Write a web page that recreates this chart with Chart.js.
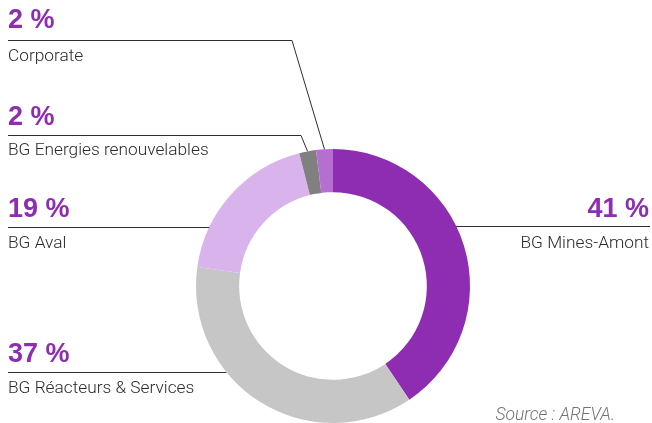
<!DOCTYPE html>
<html>
<head>
<meta charset="utf-8">
<script src="https://cdn.jsdelivr.net/npm/chart.js@4/dist/chart.umd.min.js"></script>
<style>
    html, body { margin: 0; padding: 0; background: #fff; }
    #wrap { width: 652px; height: 423px; position: relative; }
</style>
</head>
<body>
<div id="wrap"><canvas id="repartitionChart"></canvas></div>
<script>
// Répartition par BG, dans l'ordre des secteurs (sens horaire depuis midi)
var segments = ['BG Mines-Amont', 'BG Réacteurs & Services', 'BG Aval', 'BG Energies renouvelables', 'Corporate'];
var shares = [41, 37, 19, 2, 2];
var colours = ['#8e2db1', '#c6c6c6', '#d9b4ec', '#808080', '#b46fd0'];

var purple = '#8e2db1';
var lineColour = '#2e2e2e';

// where each label sits: side, baseline of the %, baseline of the name, leader line y
var callouts = [
    { side: 'right', x: 649, pctY: 217, nameY: 248, lineY: 226, lineEnd: 650 },
    { side: 'left', x: 8, pctY: 362, nameY: 393, lineY: 372, lineEnd: 8 },
    { side: 'left', x: 8, pctY: 217, nameY: 248, lineY: 227, lineEnd: 8 },
    { side: 'left', x: 8, pctY: 125, nameY: 155, lineY: 135, lineEnd: 8, bendX: 301 },
    { side: 'left', x: 8, pctY: 28, nameY: 61, lineY: 40, lineEnd: 8, bendX: 292 }
];

var calloutPlugin = {
    id: 'callouts',
    afterDraw: function (chart) {
        var ctx = chart.ctx;
        var arcs = chart.getDatasetMeta(0).data;
        ctx.save();
        callouts.forEach(function (c, i) {
            var arc = arcs[i];
            var r = arc.outerRadius;
            ctx.strokeStyle = lineColour;
            ctx.lineWidth = 1;
            ctx.beginPath();
            if (c.bendX) {
                // horizontal run, then down to the middle of the thin slice
                var mid = (arc.startAngle + arc.endAngle) / 2;
                var ex = arc.x + Math.cos(mid) * r;
                var ey = arc.y + Math.sin(mid) * r;
                ctx.moveTo(c.lineEnd, c.lineY + 0.5);
                ctx.lineTo(c.bendX, c.lineY + 0.5);
                ctx.lineTo(ex, ey);
            } else {
                var dy = c.lineY - arc.y;
                var dx = Math.sqrt(r * r - dy * dy);
                var hx = c.side === 'left' ? arc.x - dx : arc.x + dx;
                ctx.moveTo(c.lineEnd, c.lineY + 0.5);
                ctx.lineTo(hx, c.lineY + 0.5);
            }
            ctx.stroke();

            ctx.textAlign = c.side === 'left' ? 'left' : 'right';
            ctx.textBaseline = 'alphabetic';
            ctx.fillStyle = purple;
            ctx.font = 'bold 27px "Liberation Sans", Arial, sans-serif';
            ctx.fillText(shares[i] + ' %', c.x, c.pctY);
            ctx.fillStyle = '#2a2a2a';
            ctx.font = '300 17.3px Roboto, "Liberation Sans", sans-serif';
            ctx.fillText(segments[i], c.x, c.nameY);
        });

        ctx.fillStyle = '#737373';
        ctx.textAlign = 'right';
        ctx.font = 'italic 300 17.5px Roboto, "Liberation Sans", sans-serif';
        ctx.fillText('Source : AREVA.', 615, 420);
        ctx.restore();
    }
};

var ctx = document.getElementById('repartitionChart').getContext('2d');
var repartitionChart = new Chart(ctx, {
    type: 'doughnut',
    data: {
        labels: segments,
        datasets: [{
            data: shares,
            backgroundColor: colours,
            borderWidth: 0
        }]
    },
    options: {
        responsive: true,
        maintainAspectRatio: false,
        animation: false,
        cutout: '68.5%',
        layout: {
            padding: { top: 149, bottom: 0, left: 196, right: 182 }
        },
        plugins: {
            legend: { display: false },
            tooltip: { enabled: false }
        }
    },
    plugins: [calloutPlugin]
});
</script>
</body>
</html>
